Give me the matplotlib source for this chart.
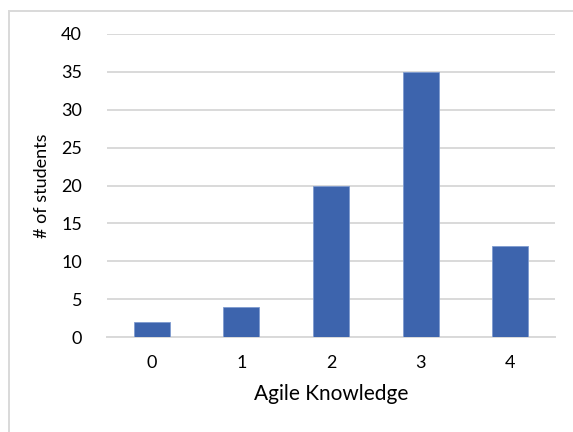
import matplotlib
matplotlib.use('Agg')
import matplotlib.pyplot as plt
from matplotlib.patches import Rectangle

knowledge = ['0', '1', '2', '3', '4']
students = [2, 4, 20, 35, 12]
yticks = [0, 5, 10, 15, 20, 25, 30, 35, 40]

plt.rcParams['font.family'] = ['Lato', 'DejaVu Sans']

fig = plt.figure(figsize=(5.73, 4.32), dpi=100)
ax = fig.add_axes([107/573, 1 - 337/432, 448/573, 303/432])

x = range(len(knowledge))
ax.bar(x, students, width=0.4, color='#3D64AD', edgecolor='#7F9BD0', linewidth=0.6, zorder=3)

ax.set_xlim(-0.5, len(knowledge) - 0.5)
ax.set_ylim(0, 40)
ax.set_xticks(list(x))
ax.set_xticklabels(knowledge)
ax.set_yticks(yticks)
ax.tick_params(length=0, labelsize=13, colors='#000000')
ax.tick_params(axis='x', pad=13)
ax.tick_params(axis='y', pad=18)
ax.grid(axis='y', color='#D9D9D9', linewidth=1.4, zorder=0)
for s in ['top', 'right', 'left']:
    ax.spines[s].set_visible(False)
ax.spines['bottom'].set_color('#D9D9D9')
ax.spines['bottom'].set_linewidth(1.4)

ax.set_xlabel('Agile Knowledge', fontsize=15, labelpad=9)
ax.set_ylabel('# of students', fontsize=13, labelpad=8)

# chart frame: only its top and left edges fall inside the image
fig.patches.append(Rectangle((9/573, -0.2), 1.0, 1.2 - 11/432, transform=fig.transFigure,
                             fill=False, edgecolor='#D9D9D9', linewidth=1.4))

fig.savefig('out.png', dpi=100)
